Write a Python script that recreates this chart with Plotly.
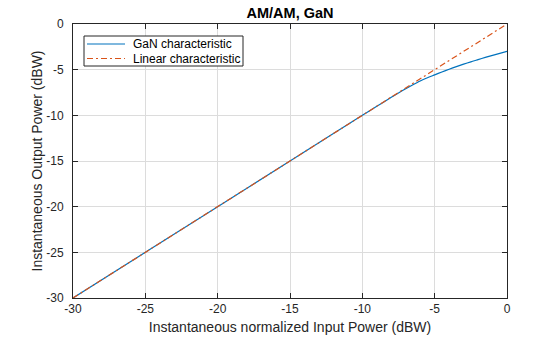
import plotly.graph_objects as go

x_in = [-30, -25, -20, -15, -12, -10, -9, -8, -7.5, -7, -6.5, -6, -5.5, -5, -4.5, -4, -3.5, -3, -2.5, -2, -1.5, -1, -0.5, 0]
gan_out = [-30, -25, -20, -15, -12, -10, -9.01, -8.03, -7.55, -7.09, -6.65, -6.24, -5.89, -5.57, -5.25, -4.95, -4.67, -4.4, -4.14, -3.9, -3.66, -3.43, -3.21, -3.0]
lin_x = [-30, 0]
lin_out = [-30, 0]

xticks = [-30, -25, -20, -15, -10, -5, 0]
yticks = [-30, -25, -20, -15, -10, -5, 0]
names = ["GaN characteristic", "Linear characteristic"]
colors = ["#0072BD", "#D95319"]
dashes = ["solid", "6px,3px,2px,3px"]

fig = go.Figure()
fig.add_trace(go.Scatter(x=x_in, y=gan_out, mode="lines", name=names[0],
                         line=dict(color=colors[0], width=1.2, shape="spline", smoothing=0.6)))
fig.add_trace(go.Scatter(x=lin_x, y=lin_out, mode="lines", name=names[1],
                         line=dict(color=colors[1], width=1.2, dash=dashes[1])))

font = "Liberation Sans, Arial, sans-serif"
axis_common = dict(showgrid=True, gridcolor="#dcdcdc", gridwidth=1, showline=True, linecolor="#262626",
                   linewidth=1, mirror="ticks", ticks="inside", ticklen=5, tickcolor="#262626",
                   tickfont=dict(family=font, size=12, color="#262626"), zeroline=False, automargin=False)

# manual legend (paper coordinates) to mimic compact MATLAB legend
W, H = 560, 337
L, R, T, B = 73, 53, 24, 39
pw, ph = W - L - R, H - T - B
def px(xp): return (xp - L) / pw
def py(yp): return 1 - (yp - T) / ph

shapes = [dict(type="rect", xref="paper", yref="paper", x0=px(84), x1=px(243), y0=py(66), y1=py(36),
               line=dict(color="#262626", width=1), fillcolor="white", layer="above")]
annotations = []
for i, (n, c, d) in enumerate(zip(names, colors, dashes)):
    yy = 44 + i * 14.5
    shapes.append(dict(type="line", xref="paper", yref="paper", x0=px(87), x1=px(125), y0=py(yy), y1=py(yy),
                       line=dict(color=c, width=1.2, dash=d), layer="above"))
    annotations.append(dict(xref="paper", yref="paper", x=px(131), y=py(yy), text=n, showarrow=False,
                            xanchor="left", yanchor="middle", font=dict(family=font, size=12, color="#000")))

fig.update_layout(
    width=W, height=H, paper_bgcolor="white", plot_bgcolor="white",
    margin=dict(l=L, r=R, t=T, b=B, autoexpand=False),
    title=dict(text="<b>AM/AM, GaN</b>", x=0.5, xanchor="center", xref="paper",
               y=1 - 13 / H, yref="container", yanchor="middle", automargin=False,
               font=dict(family=font, size=14.5, color="#000")),
    xaxis=dict(range=[-30, 0], tickvals=xticks, ticktext=[str(v) for v in xticks],
               title=dict(text="Instantaneous normalized Input Power (dBW)", standoff=6,
                          font=dict(family=font, size=14, color="#262626")), **axis_common),
    yaxis=dict(range=[-30, 0], tickvals=yticks, ticktext=[str(v) for v in yticks],
               ticklabelstandoff=6,
               title=dict(text="Instantaneous Output Power (dBW)", standoff=0,
                          font=dict(family=font, size=14, color="#262626")), **axis_common),
    showlegend=False,
    shapes=shapes,
    annotations=annotations,
)
fig.write_html("out.html")
